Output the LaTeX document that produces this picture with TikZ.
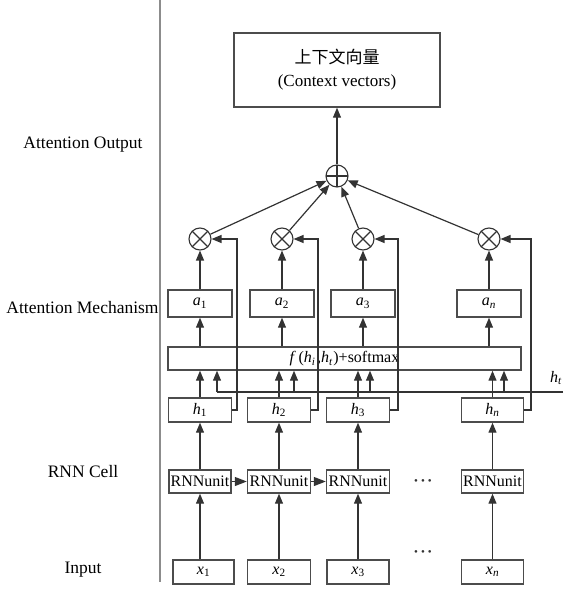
\documentclass[tikz,border=0pt]{standalone}
\usepackage{fontspec}
\setmainfont{Liberation Serif}
\newfontfamily\cjk{Noto Sans CJK SC}
\usetikzlibrary{arrows.meta,calc}
\tikzset{
  ln/.style={draw=black!80, line width=1.2pt},
  arr/.style={ln, -{Triangle[length=10pt,width=8pt]}},
  bigarr/.style={ln, -{Triangle[length=12pt,width=9pt]}},
  bx/.style={draw=black!70, line width=1.4pt, inner sep=0pt, font=\fontsize{16}{19}\selectfont},
  lab/.style={font=\fontsize{17.5}{20}\selectfont, inner sep=0pt},
  dotsnode/.style={inner sep=0pt, font=\fontsize{11}{11}\selectfont, text=black!80},
  pluscirc/.style={circle, draw=black!80, line width=1.1pt, minimum size=22pt, inner sep=0pt,
    path picture={\draw[black!80, line width=1.1pt] (path picture bounding box.north) -- (path picture bounding box.south)
      (path picture bounding box.west) -- (path picture bounding box.east);}},
  timescirc/.style={circle, draw=black!80, line width=1.1pt, minimum size=22pt, inner sep=0pt,
    path picture={\draw[black!80, line width=1.1pt] (path picture bounding box.north west) -- (path picture bounding box.south east)
      (path picture bounding box.south west) -- (path picture bounding box.north east);}},
  sep/.style={draw=black!45, line width=1.6pt}
}
\newcommand{\mydots}{\textbullet\hspace{3pt}\textbullet\hspace{3pt}\textbullet}
\begin{document}
\begin{tikzpicture}[x=1pt,y=-1pt]
\useasboundingbox (0,0) rectangle (563,589);
% separator
\coordinate (s1) at (160,0);
\coordinate (s2) at (160,582);
\draw[sep] (s1) -- (s2);
% left labels
\node[lab] (L1) at (83,145) {Attention Output};
\node[lab] (L2) at (82.5,308) {Attention Mechanism};
\node[lab] (L3) at (83,472) {RNN Cell};
\node[lab] (L4) at (83,570) {Input};
% context box
\node[bx, minimum width=206pt, minimum height=74pt, align=center, font=\fontsize{17}{23}\selectfont] (ctx) at (337,70) {{\cjk 上下文向量}\\(Context vectors)};
% oplus
\node[pluscirc] (p) at (337,176) {};
% otimes
\node[timescirc] (o1) at (200,239) {};
\node[timescirc] (o2) at (282,239) {};
\node[timescirc] (o3) at (363,239) {};
\node[timescirc] (on) at (489,239) {};
% a boxes
\node[bx, minimum width=64pt, minimum height=27pt] (a1) at (200,303.5) {\textit{a}\textsubscript{1}};
\node[bx, minimum width=64pt, minimum height=27pt] (a2) at (282,303.5) {\textit{a}\textsubscript{2}};
\node[bx, minimum width=64pt, minimum height=27pt] (a3) at (363,303.5) {\textit{a}\textsubscript{3}};
\node[bx, minimum width=64pt, minimum height=27pt] (an) at (489,303.5) {\textit{a}\textsubscript{\textit{n}}};
% f box
\node[bx, minimum width=353pt, minimum height=23pt] (f) at (344.5,358.5) {\textit{f}\,(\textit{h}\textsubscript{\textit{i}}\hspace{1.5pt},\textit{h}\textsubscript{\textit{t}}\hspace{0.5pt})+softmax};
% h boxes
\node[bx, minimum width=63pt, minimum height=24pt] (h1) at (200,410) {\textit{h}\textsubscript{1}};
\node[bx, minimum width=63pt, minimum height=24pt] (h2) at (279,410) {\textit{h}\textsubscript{2}};
\node[bx, minimum width=63pt, minimum height=24pt] (h3) at (358,410) {\textit{h}\textsubscript{3}};
\node[bx, minimum width=62pt, minimum height=24pt] (hn) at (492.5,410) {\textit{h}\textsubscript{\textit{n}}};
% RNN units
\node[bx, minimum width=62pt, minimum height=23pt] (r1) at (200,481.5) {RNNunit};
\node[bx, minimum width=63pt, minimum height=23pt] (r2) at (279,481.5) {RNNunit};
\node[bx, minimum width=63pt, minimum height=23pt] (r3) at (358,481.5) {RNNunit};
\node[bx, minimum width=62pt, minimum height=23pt] (rn) at (492.5,481.5) {RNNunit};
% x boxes
\node[bx, minimum width=61pt, minimum height=24pt] (x1) at (203.5,572) {\textit{x}\textsubscript{1}};
\node[bx, minimum width=63pt, minimum height=24pt] (x2) at (279,572) {\textit{x}\textsubscript{2}};
\node[bx, minimum width=62pt, minimum height=24pt] (x3) at (358,572) {\textit{x}\textsubscript{3}};
\node[bx, minimum width=62pt, minimum height=24pt] (xn) at (492.5,572) {\textit{x}\textsubscript{\textit{n}}};
% dots
\node[dotsnode] (d1) at (423,482) {\mydots};
\node[dotsnode] (d2) at (423,553) {\mydots};
% h_t label
\node[font=\fontsize{16}{19}\selectfont, inner sep=0pt] (htl) at (556,378) {\textit{h}\textsubscript{\textit{t}}};
% arrows x -> RNN
\draw[arr] (r1 |- x1.north) -- (r1.south);
\draw[arr] (x2) -- (r2);
\draw[arr] (x3) -- (r3);
\draw[arr] (xn) -- (rn);
% RNN chain
\draw[bigarr] (r1) -- (r2);
\draw[bigarr] (r2) -- (r3);
% RNN -> h
\draw[arr] (r1) -- (h1);
\draw[arr] (r2) -- (h2);
\draw[arr] (r3) -- (h3);
\draw[arr] (rn) -- (hn);
% h -> f
\draw[arr] (h1.north) -- (h1 |- f.south);
\draw[arr] (h2.north) -- (h2 |- f.south);
\draw[arr] (h3.north) -- (h3 |- f.south);
\draw[arr] (hn.north) -- (hn |- f.south);
% h_t line
\coordinate (htE) at (563,392);
\coordinate (t1) at (217,392);
\coordinate (t2) at (294,392);
\coordinate (t3) at (370,392);
\coordinate (tn) at (504,392);
\draw[ln] (htE) -- (t1);
\draw[arr] (t1) -- (t1 |- f.south);
\draw[arr] (t2) -- (t2 |- f.south);
\draw[arr] (t3) -- (t3 |- f.south);
\draw[arr] (tn) -- (tn |- f.south);
% f -> a
\draw[arr] (a1 |- f.north) -- (a1.south);
\draw[arr] (a2 |- f.north) -- (a2.south);
\draw[arr] (a3 |- f.north) -- (a3.south);
\draw[arr] (an |- f.north) -- (an.south);
% a -> otimes
\draw[arr] (a1) -- (o1);
\draw[arr] (a2) -- (o2);
\draw[arr] (a3) -- (o3);
\draw[arr] (an) -- (on);
% feedback h -> otimes
\coordinate (v1) at (237,410);
\coordinate (v2) at (318,410);
\coordinate (v3) at (398,410);
\coordinate (vn) at (531,410);
\draw[arr] (h1.east) -- (v1) |- (o1.east);
\draw[arr] (h2.east) -- (v2) |- (o2.east);
\draw[arr] (h3.east) -- (v3) |- (o3.east);
\draw[arr] (hn.east) -- (vn) |- (on.east);
% otimes -> oplus
\draw[arr] (o1) -- (p);
\draw[arr] (o2) -- (p);
\draw[arr] (o3) -- (p);
\draw[arr] (on) -- (p);
% oplus -> context
\draw[arr] (p) -- (ctx);
\end{tikzpicture}
\end{document}
